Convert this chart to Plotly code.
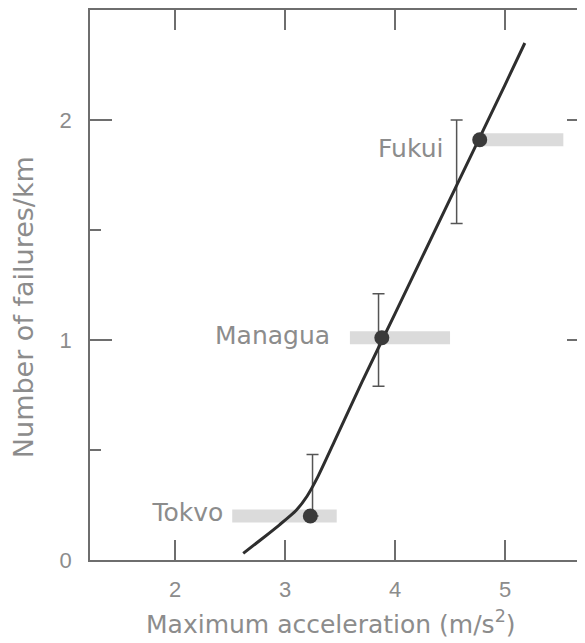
import plotly.graph_objects as go

# Data
cities = ["Tokvo", "Managua", "Fukui"]
acc = [3.23, 3.88, 4.77]
failures = [0.20, 1.01, 1.91]
acc_low = [2.52, 3.59, 4.77]
acc_high = [3.47, 4.50, 5.53]
err_x = [3.25, 3.85, 4.56]
err_low = [0.20, 0.79, 1.53]
err_high = [0.48, 1.21, 2.00]
curve_x = [2.62, 2.8, 2.95, 3.1, 3.2, 3.3, 3.45, 3.7, 4.0, 4.5, 5.0, 5.18]
curve_y = [0.03, 0.10, 0.16, 0.225, 0.29, 0.38, 0.54, 0.81, 1.12, 1.64, 2.16, 2.35]
label_x = [2.44, 3.41, 4.44]
label_y = [0.205, 1.01, 1.86]
x_ticks = [2, 3, 4, 5]
y_ticks = [0, 1, 2]
y_minor = [0.5, 1.5]

gray_txt = "#8c8c8c"
axis_col = "#6e6e6e"
wide_font = "DejaVu Sans, Verdana, sans-serif"
tick_font = "Liberation Sans, Arial, sans-serif"

fig = go.Figure()

# shaded horizontal bands (acceleration range)
for lo, hi, y in zip(acc_low, acc_high, failures):
    fig.add_trace(go.Scatter(x=[lo, hi], y=[y, y], mode="lines",
                             line=dict(color="rgba(190,190,190,0.55)", width=13),
                             hoverinfo="skip", showlegend=False))

# vertical error bars
for x, lo, hi in zip(err_x, err_low, err_high):
    mid = (lo + hi) / 2
    fig.add_trace(go.Scatter(x=[x], y=[mid], mode="markers",
                             marker=dict(size=1, color="rgba(0,0,0,0)"),
                             error_y=dict(type="data", symmetric=False,
                                          array=[hi - mid], arrayminus=[mid - lo],
                                          color="#555555", thickness=1.5, width=6),
                             showlegend=False, hoverinfo="skip"))

# fitted curve
fig.add_trace(go.Scatter(x=curve_x, y=curve_y, mode="lines",
                         line=dict(color="#2e2e2e", width=3, shape="spline", smoothing=0.6),
                         showlegend=False))

# data points
fig.add_trace(go.Scatter(x=acc, y=failures, mode="markers",
                         marker=dict(size=15, color="#3a3a3a"),
                         showlegend=False))

# labels
fig.add_trace(go.Scatter(x=label_x, y=label_y, mode="text", text=cities,
                         textposition="middle left",
                         textfont=dict(size=25, color=gray_txt, family=wide_font),
                         showlegend=False))

# invisible trace for right axis ticks
fig.add_trace(go.Scatter(x=[3], y=[1], yaxis="y2", mode="markers",
                         marker=dict(size=1, color="rgba(0,0,0,0)"),
                         showlegend=False, hoverinfo="skip"))

fig.update_layout(
    width=577, height=635,
    margin=dict(l=82, r=0, t=2, b=83),
    paper_bgcolor="white", plot_bgcolor="white",
    font=dict(family=tick_font, size=22, color=gray_txt),
    xaxis=dict(range=[1.227, 5.727], tickvals=x_ticks, ticktext=[str(v) for v in x_ticks],
               ticks="inside", ticklen=20, tickwidth=1.5, tickcolor=axis_col,
               showline=True, linecolor=axis_col, linewidth=1.5, mirror="ticks",
               showgrid=False, zeroline=False, automargin=False, ticklabelstandoff=9,
               tickfont=dict(size=22, color=gray_txt, family=tick_font)),
    yaxis=dict(range=[0, 2.5], tickvals=y_ticks, ticktext=[str(v) for v in y_ticks],
               ticks="inside", ticklen=22, tickwidth=1.5, tickcolor=axis_col,
               minor=dict(tickvals=y_minor, ticks="inside", ticklen=11,
                          tickwidth=1.5, tickcolor=axis_col),
               showline=True, linecolor=axis_col, linewidth=1.5,
               showgrid=False, zeroline=False, automargin=False, ticklabelstandoff=12,
               tickfont=dict(size=22, color=gray_txt, family=tick_font)),
    yaxis2=dict(range=[0, 2.5], overlaying="y", side="right", anchor="x",
                tickvals=y_ticks, showticklabels=False,
                ticks="inside", ticklen=18, tickwidth=1.5, tickcolor=axis_col,
                minor=dict(tickvals=y_minor, ticks="inside", ticklen=6,
                           tickwidth=1.5, tickcolor=axis_col),
                showline=False, showgrid=False, zeroline=False, automargin=False),
    annotations=[
        dict(text="Maximum acceleration (m/s<sup>2</sup>)", xref="paper", yref="paper",
             x=0.487, y=-0.1145, xanchor="center", yanchor="middle", showarrow=False,
             font=dict(size=25, color=gray_txt, family=wide_font)),
        dict(text="Number of failures/km", xref="paper", yref="paper",
             x=-0.135, y=0.46, xanchor="center", yanchor="middle", showarrow=False,
             textangle=-90, font=dict(size=27, color=gray_txt, family=wide_font)),
    ],
)

fig.write_html("out.html")
